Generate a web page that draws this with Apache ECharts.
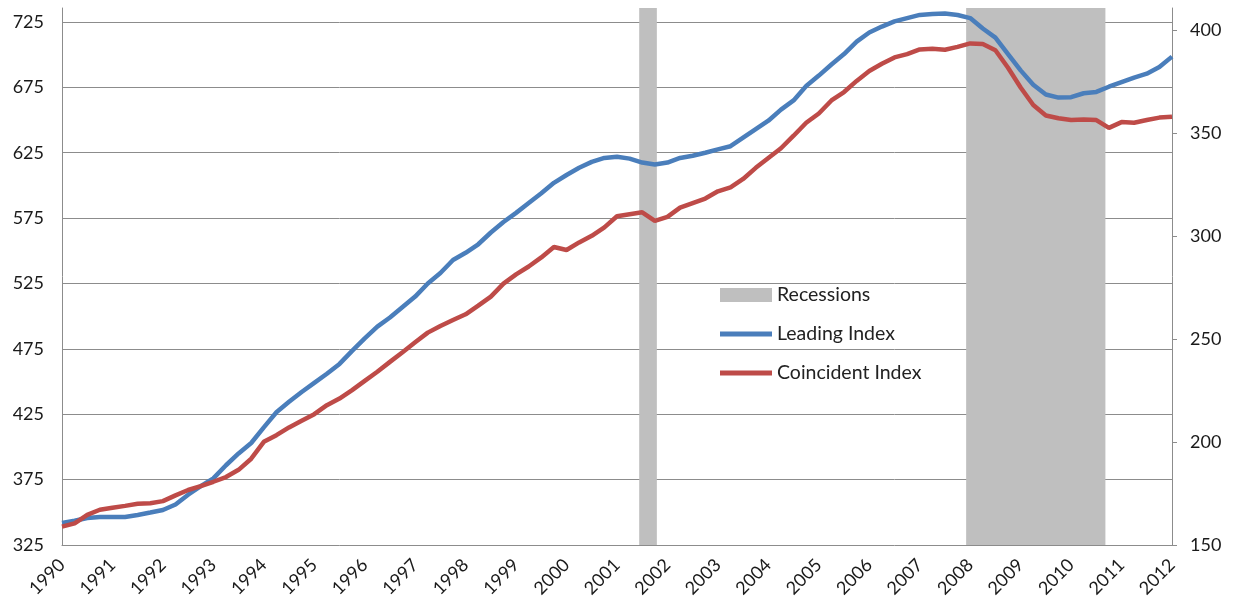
<!DOCTYPE html>
<html>
<head>
<meta charset="utf-8">
<script src="https://cdn.jsdelivr.net/npm/echarts@6/dist/echarts.min.js"></script>
<style>
html,body{margin:0;padding:0;background:#fff;}
#chart{width:1236px;height:606px;}
</style>
</head>
<body>
<div id="chart"></div>
<script>
// Quarterly readings, 1990 Q1 .. 2012 Q1
var startYear = 1990;
var leadingIndex = [
  341.8, 343.5, 345.6, 346.4, 346.4, 346.4, 348.0, 349.8,
  351.8, 356.0, 363.5, 370.0, 376.0, 386.0, 395.0, 403.0,
  415.0, 426.5, 434.5, 442.0, 449.0, 456.0, 463.5, 473.5,
  483.0, 492.0, 499.0, 507.0, 515.0, 525.0, 533.0, 543.0,
  548.5, 555.0, 564.0, 572.0, 579.0, 586.5, 594.0, 602.0,
  608.0, 613.5, 618.0, 621.0, 622.0, 620.5, 617.5, 616.0,
  617.5, 621.0, 622.7, 625.0, 627.6, 630.0, 636.5, 643.0,
  649.5, 658.0, 665.0, 676.0, 684.0, 692.5, 700.5, 710.0,
  717.0, 721.5, 725.5, 728.0, 730.4, 731.2, 731.5, 730.3,
  728.0, 720.0, 713.0, 700.5, 688.0, 677.0, 669.5, 667.2,
  667.5, 670.5, 671.5, 675.5, 679.0, 682.5, 685.5, 690.5,
  698.5
];
var coincidentIndex = [
  158.9, 160.5, 164.6, 167.1, 168.1, 169.0, 170.0, 170.3,
  171.3, 174.1, 176.7, 178.6, 180.7, 183.0, 186.5, 191.9,
  200.1, 203.3, 207.1, 210.3, 213.5, 217.9, 221.1, 225.2,
  229.7, 234.1, 238.9, 243.6, 248.4, 253.1, 256.3, 259.2,
  262.0, 266.2, 270.6, 276.9, 281.4, 285.2, 289.6, 294.7,
  293.2, 296.9, 300.1, 304.2, 309.6, 310.6, 311.5, 307.4,
  309.3, 313.8, 316.0, 318.2, 321.7, 323.6, 327.7, 333.1,
  337.9, 342.6, 348.7, 355.0, 359.5, 365.8, 369.9, 375.3,
  380.1, 383.6, 386.7, 388.3, 390.6, 390.9, 390.4, 391.8,
  393.5, 393.2, 390.2, 381.7, 372.1, 363.6, 358.5, 357.2,
  356.3, 356.6, 356.3, 352.5, 355.3, 355.0, 356.3, 357.5,
  357.9
];
var recessions = [[2001.44, 2001.79], [2007.92, 2010.68]];
var leftTicks = {min: 325, max: 735.7, step: 50};
var rightTicks = {min: 150, max: 410.7, step: 50};
var yearRange = [1990, 2012];

function pairs(vals) {
  return vals.map(function (v, i) { return [startYear + i * 0.25, v]; });
}

var FONT = 'Lato';
var LINE_ICON = 'path://M0,0H52V5H0Z';
var chart = echarts.init(document.getElementById('chart'), null, {renderer: 'canvas'});
chart.setOption({
  animation: false,
  backgroundColor: '#ffffff',
  textStyle: {fontFamily: FONT},
  grid: {left: 62, right: 64, top: 8, bottom: 61, containLabel: false},
  legend: {
    orient: 'vertical',
    left: 715,
    top: 280,
    padding: 5,
    itemWidth: 52,
    itemHeight: 14,
    itemGap: 19,
    symbolKeepAspect: true,
    textStyle: {fontFamily: FONT, fontSize: 19.5, color: '#222'},
    data: [
      {name: 'Recessions', icon: 'rect'},
      {name: 'Leading Index', icon: LINE_ICON},
      {name: 'Coincident Index', icon: LINE_ICON}
    ]
  },
  xAxis: {
    type: 'value',
    min: yearRange[0],
    max: yearRange[1],
    interval: 1,
    axisLine: {show: true, lineStyle: {color: '#8c8c8c', width: 1}},
    axisTick: {show: false},
    splitLine: {show: false},
    axisLabel: {
      rotate: 45,
      margin: 17,
      fontFamily: FONT,
      fontSize: 18,
      color: '#1a1a1a',
      formatter: function (v) { return String(v); }
    }
  },
  yAxis: [
    {
      type: 'value',
      position: 'left',
      min: leftTicks.min,
      max: leftTicks.max,
      interval: leftTicks.step,
      axisLine: {show: true, lineStyle: {color: '#8c8c8c'}},
      axisTick: {show: false},
      splitLine: {show: true, showMaxLine: false, showMinLine: false, lineStyle: {color: '#8c8c8c', width: 1}},
      axisLabel: {
        showMaxLabel: false,
        margin: 18,
        fontFamily: FONT,
        fontSize: 18,
        color: '#1a1a1a'
      }
    },
    {
      type: 'value',
      position: 'right',
      min: rightTicks.min,
      max: rightTicks.max,
      interval: rightTicks.step,
      axisLine: {show: true, lineStyle: {color: '#8c8c8c'}},
      axisTick: {show: true, length: 5, lineStyle: {color: '#8c8c8c'}},
      splitLine: {show: false},
      axisLabel: {
        showMaxLabel: false,
        margin: 18,
        fontFamily: FONT,
        fontSize: 18,
        color: '#1a1a1a'
      }
    }
  ],
  series: [
    {
      name: 'Recessions',
      type: 'line',
      data: [],
      z: 1,
      color: '#bfbfbf',
      itemStyle: {color: '#bfbfbf'},
      markArea: {
        silent: true,
        itemStyle: {color: '#bfbfbf', opacity: 1},
        data: recessions.map(function (r) { return [{xAxis: r[0]}, {xAxis: r[1]}]; })
      }
    },
    {
      name: 'Leading Index',
      type: 'line',
      yAxisIndex: 0,
      data: pairs(leadingIndex),
      showSymbol: false,
      symbol: 'none',
      z: 3,
      color: '#4a7ebb',
      lineStyle: {color: '#4a7ebb', width: 4.5}
    },
    {
      name: 'Coincident Index',
      type: 'line',
      yAxisIndex: 1,
      data: pairs(coincidentIndex),
      showSymbol: false,
      symbol: 'none',
      z: 4,
      color: '#be4b48',
      lineStyle: {color: '#be4b48', width: 4.5}
    }
  ]
});
</script>
</body>
</html>
